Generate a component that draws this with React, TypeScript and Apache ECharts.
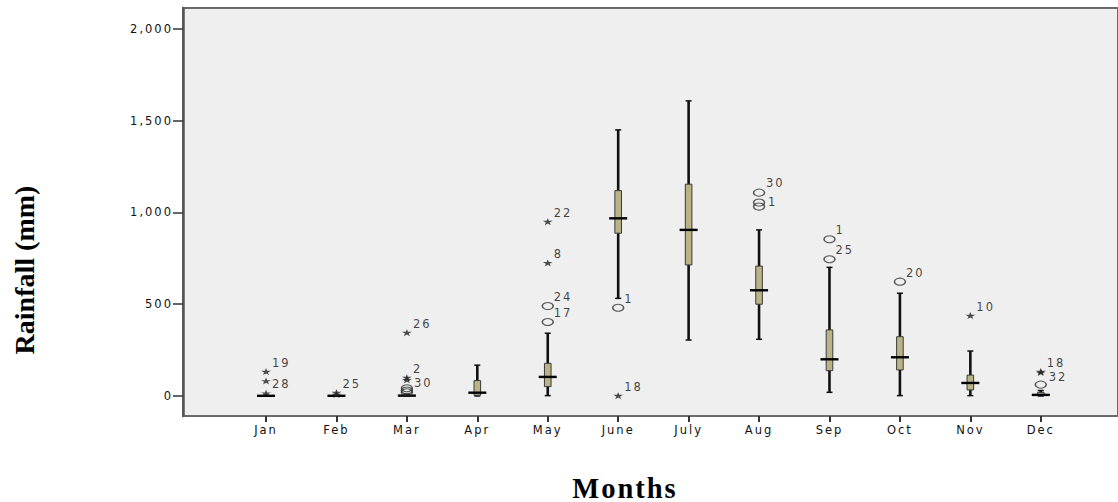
import React, { useEffect, useRef } from "react";
import * as echarts from "echarts";

const months = ["Jan", "Feb", "Mar", "Apr", "May", "June", "July", "Aug", "Sep", "Oct", "Nov", "Dec"];
const whiskerLow = [0, 0, 0, 0, 2, 532, 305, 309, 20, 2, 2, 0];
const quartile1 = [0, 0, 0, 4, 51, 887, 714, 500, 138, 142, 33, 2];
const medians = [1, 1, 2, 18, 104, 968, 905, 576, 200, 211, 71, 6];
const quartile3 = [3, 2, 5, 84, 178, 1119, 1154, 708, 360, 323, 114, 20];
const whiskerHigh = [5, 4, 10, 168, 342, 1450, 1608, 905, 701, 560, 245, 30];

// [month, value, case id]
const mildOutliers: [string, number, string][] = [
  ["Mar", 42, ""],
  ["Mar", 30, ""],
  ["Mar", 20, ""],
  ["May", 403, "17"],
  ["May", 490, "24"],
  ["June", 481, "1"],
  ["Aug", 1108, "30"],
  ["Aug", 1054, "1"],
  ["Aug", 1032, ""],
  ["Sep", 854, "1"],
  ["Sep", 745, "25"],
  ["Oct", 623, "20"],
  ["Dec", 62, ""],
];
const extremeOutliers: [string, number, string][] = [
  ["Jan", 133, "19"],
  ["Jan", 82, "28"],
  ["Jan", 15, ""],
  ["Feb", 18, "25"],
  ["Feb", 8, ""],
  ["Mar", 345, "26"],
  ["Mar", 100, "2"],
  ["Mar", 88, "30"],
  ["May", 950, "22"],
  ["May", 725, "8"],
  ["June", 2, "18"],
  ["Nov", 438, "10"],
  ["Dec", 133, "18"],
  ["Dec", 128, "32"],
];
const yTicks = [0, 500, 1000, 1500, 2000];

const labelNudges: Record<string, [number, number]> = {
  "Jan-28": [6, 3],
  "Mar-30": [7, 3],
  "Dec-32": [8, 4],
  "Aug-1": [9, -1],
  "Aug-30": [7, -10],
};

const STAR =
  "path://M50,2 L61,38 L98,38 L68,60 L79,96 L50,74 L21,96 L32,60 L2,38 L39,38 Z";

const Y_MIN = -109;
const Y_MAX = 2114;
const TICK_FONT = "DejaVu Sans";
const TICK_SIZE = 11.5;
const TEXT_COLOR = "#111";

function outlierData(list: [string, number, string][]) {
  return list.map(([m, v, id]) => ({
    value: [months.indexOf(m), v],
    name: id,
    label: { offset: labelNudges[m + "-" + id] || [6, -9] },
  }));
}

export default function App() {
  const ref = useRef<HTMLDivElement>(null);
  useEffect(() => {
    if (!ref.current) return;
    const chart = echarts.init(ref.current, null, { renderer: "svg" });
    const boxData = months.map((_, i) => [
      i,
      whiskerLow[i],
      quartile1[i],
      medians[i],
      quartile3[i],
      whiskerHigh[i],
    ]);
    const labelStyle = {
      show: true,
      position: "inside",
      align: "left",
      verticalAlign: "middle",
      formatter: "{b}",
      fontFamily: TICK_FONT,
      fontSize: TICK_SIZE,
      color: TEXT_COLOR,
      textBorderWidth: 0,
      textBorderColor: "transparent",
    };
    chart.setOption({
      animation: false,
      backgroundColor: "#ffffff",
      grid: [
        {
          left: 183,
          top: 8,
          width: 960,
          height: 408,
          show: true,
          backgroundColor: "#efefef",
          borderColor: "#6a6a6a",
          borderWidth: 2,
        },
        { left: 230.8, top: 8, width: 845.2, height: 408, show: false },
      ],
      xAxis: [
        { type: "value", gridIndex: 0, show: false, min: 0, max: 1 },
        {
          type: "category",
          gridIndex: 1,
          data: months,
          boundaryGap: true,
          position: "bottom",
          axisLine: { show: false, onZero: false },
          axisTick: {
            show: true,
            alignWithLabel: true,
            length: 6,
            lineStyle: { color: "#333", width: 2 },
          },
          axisLabel: {
            margin: 8,
            fontFamily: TICK_FONT,
            fontSize: TICK_SIZE,
            color: TEXT_COLOR,
          },
          splitLine: { show: false },
        },
      ],
      yAxis: [
        {
          type: "value",
          gridIndex: 0,
          min: Y_MIN,
          max: Y_MAX,
          axisLine: { show: true, onZero: false, lineStyle: { color: "#555", width: 2.5 } },
          axisTick: {
            show: true,
            length: 10,
            customValues: yTicks,
            lineStyle: { color: "#333", width: 1.5 },
          },
          axisLabel: {
            customValues: yTicks,
            margin: 10,
            fontFamily: TICK_FONT,
            fontSize: TICK_SIZE,
            color: TEXT_COLOR,
            formatter: (v: number) => v.toLocaleString("en-US"),
          },
          splitLine: { show: false },
        },
        { type: "value", gridIndex: 1, min: Y_MIN, max: Y_MAX, show: false },
      ],
      series: [
        {
          type: "custom",
          xAxisIndex: 1,
          yAxisIndex: 1,
          data: boxData,
          encode: { x: 0, y: [1, 2, 3, 4, 5] },
          renderItem: (params: any, api: any) => {
            const i = api.value(0);
            const pLo = api.coord([i, api.value(1)]);
            const pQ1 = api.coord([i, api.value(2)]);
            const pMed = api.coord([i, api.value(3)]);
            const pQ3 = api.coord([i, api.value(4)]);
            const pHi = api.coord([i, api.value(5)]);
            const cx = pLo[0];
            return {
              type: "group",
              children: [
                {
                  type: "line",
                  shape: { x1: cx, y1: pLo[1], x2: cx, y2: pHi[1] },
                  style: { stroke: "#111", lineWidth: 2.6 },
                },
                {
                  type: "line",
                  shape: { x1: cx - 3, y1: pLo[1], x2: cx + 3, y2: pLo[1] },
                  style: { stroke: "#111", lineWidth: 1.5 },
                },
                {
                  type: "line",
                  shape: { x1: cx - 3, y1: pHi[1], x2: cx + 3, y2: pHi[1] },
                  style: { stroke: "#111", lineWidth: 1.5 },
                },
                {
                  type: "rect",
                  shape: {
                    x: cx - 3.3,
                    y: pQ3[1],
                    width: 6.6,
                    height: Math.max(pQ1[1] - pQ3[1], 0.5),
                  },
                  style: { fill: "#b9b386", stroke: "#3a3a3a", lineWidth: 1 },
                },
                {
                  type: "line",
                  shape: { x1: cx - 9, y1: pMed[1], x2: cx + 9, y2: pMed[1] },
                  style: { stroke: "#000", lineWidth: 2.4 },
                },
              ],
            };
          },
          z: 3,
        },
        {
          type: "scatter",
          xAxisIndex: 1,
          yAxisIndex: 1,
          symbol: "circle",
          symbolSize: [11, 7],
          itemStyle: { color: "rgba(0,0,0,0)", borderColor: "#333", borderWidth: 1.3 },
          label: labelStyle,
          data: outlierData(mildOutliers),
          z: 4,
        },
        {
          type: "scatter",
          xAxisIndex: 1,
          yAxisIndex: 1,
          symbol: STAR,
          symbolSize: [10, 7],
          itemStyle: { color: "#222" },
          label: labelStyle,
          data: outlierData(extremeOutliers),
          z: 4,
        },
      ],
      graphic: [
        {
          type: "text",
          x: 24,
          y: 270,
          rotation: Math.PI / 2,
          style: {
            text: "Rainfall (mm)",
            font: 'bold 28px "Liberation Serif"',
            fill: "#000",
            textAlign: "center",
            textVerticalAlign: "middle",
          },
        },
        {
          type: "text",
          x: 625,
          y: 488,
          style: {
            text: "Months",
            font: 'bold 28.5px "Liberation Serif"',
            fill: "#000",
            textAlign: "center",
            textVerticalAlign: "middle",
          },
        },
      ],
    });
    return () => chart.dispose();
  }, []);
  return (
    <>
      <style>{`
        .rc text { letter-spacing: 2px; }
        .rc text[style*="Liberation Serif"], .rc text[font-family*="Liberation Serif"] { letter-spacing: 0px; }
        .rc text[style*="28.5px"] { letter-spacing: 2px; }
      `}</style>
      <div
        ref={ref}
        className="rc"
        style={{ position: "absolute", left: 0, top: 0, width: 1118, height: 502 }}
      />
    </>
  );
}
